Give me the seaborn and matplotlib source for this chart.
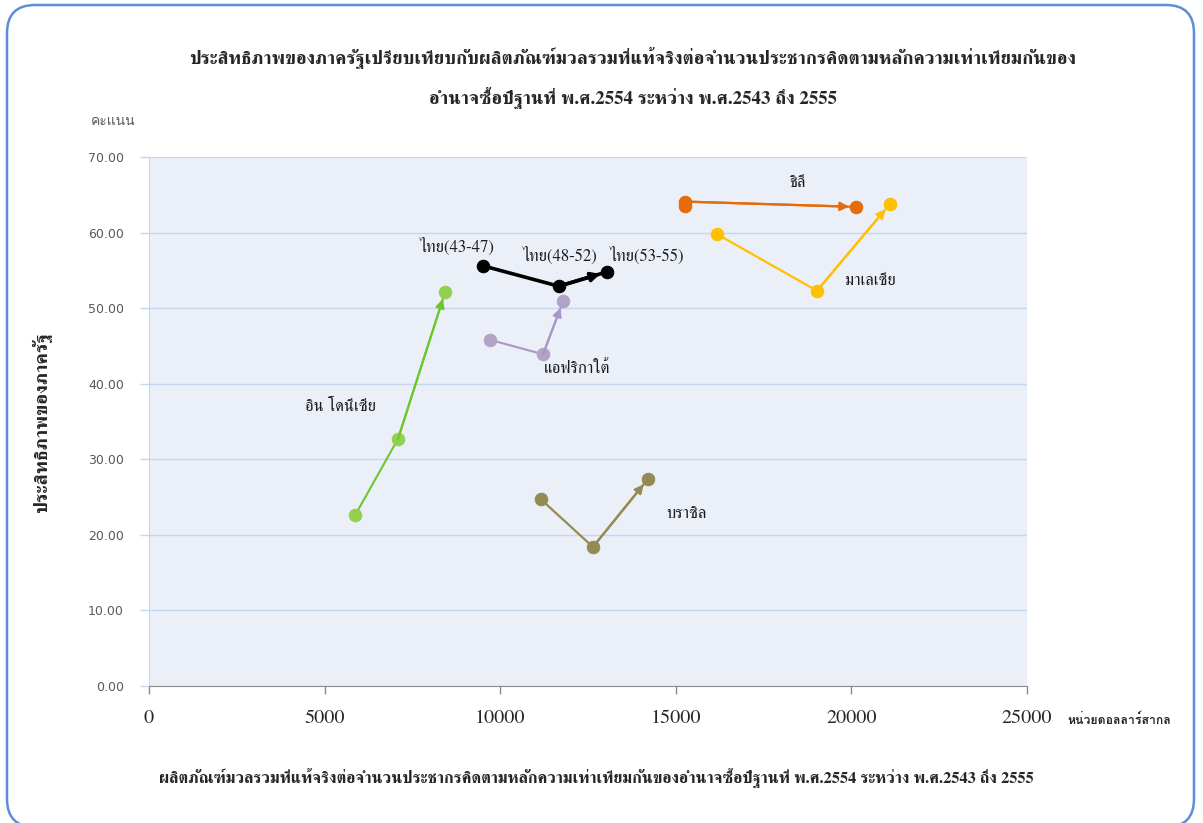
import numpy as np
import pandas as pd
import matplotlib
matplotlib.use('Agg')
import matplotlib.pyplot as plt
from matplotlib.patches import FancyBboxPatch
import seaborn as sns

# ข้อมูล (อ่านค่าจากกราฟต้นฉบับ)
thai_x = [9510, 11670, 13040]
thai_y = [55.6, 52.9, 54.8]
thai_labels = ['ไทย(43-47)', 'ไทย(48-52)', 'ไทย(53-55)']
sa_x = [9710, 11220, 11790]
sa_y = [45.8, 43.9, 50.9]
indo_x = [5870, 7090, 8430]
indo_y = [22.6, 32.7, 52.1]
brazil_x = [11160, 12640, 14210]
brazil_y = [24.7, 18.4, 27.4]
chile_x = [15270, 15260, 20130]
chile_y = [63.5, 64.1, 63.4]
malay_x = [16170, 19020, 21100]
malay_y = [59.8, 52.3, 63.8]

countries = ['ไทย', 'แอฟริกาใต้', 'อิน โดนีเซีย', 'บราซิล', 'ชิลี', 'มาเลเซีย']
xs = [thai_x, sa_x, indo_x, brazil_x, chile_x, malay_x]
ys = [thai_y, sa_y, indo_y, brazil_y, chile_y, malay_y]
line_colors = ['#000000', '#a896c6', '#6cc72a', '#948a54', '#e46c0a', '#ffc000']
marker_colors = ['#000000', '#b3a2c7', '#92d050', '#948a54', '#e46c0a', '#ffc000']
line_widths = [2.6, 1.5, 1.5, 1.6, 1.6, 1.6]

yticks = [0, 10, 20, 30, 40, 50, 60, 70]
xticks = [0, 5000, 10000, 15000, 20000, 25000]

title1 = 'ประสิทธิภาพของภาครัฐเปรียบเทียบกับผลิตภัณฑ์มวลรวมที่แท้จริงต่อจำนวนประชากรคิดตามหลักความเท่าเทียมกันของ'
title2 = 'อำนาจซื้อปีฐานที่ พ.ศ.2554 ระหว่าง พ.ศ.2543 ถึง 2555'
ylabel = 'ประสิทธิภาพของภาครัฐ'
xlabel = 'ผลิตภัณฑ์มวลรวมที่แท้จริงต่อจำนวนประชากรคิดตามหลักความเท่าเทียมกันของอำนาจซื้อปีฐานที่ พ.ศ.2554 ระหว่าง พ.ศ.2543 ถึง 2555'

rows = []
for c, xx, yy in zip(countries, xs, ys):
    for i, (a, b) in enumerate(zip(xx, yy)):
        rows.append({'country': c, 'step': i, 'gdp': a, 'score': b})
df = pd.DataFrame(rows)

sns.set_style('white')
serif = ['FreeSerif', 'DejaVu Serif']
sans = ['Loma', 'Noto Sans Thai', 'DejaVu Sans']
plt.rcParams['font.family'] = serif

fig = plt.figure(figsize=(12.03, 8.23), dpi=100)

# กรอบมุมมน
bg = fig.add_axes([0, 0, 1, 1])
bg.set_xlim(0, 1203)
bg.set_ylim(823, 0)
bg.axis('off')
bg.add_patch(FancyBboxPatch((7, 5), 1187, 822, boxstyle='round,pad=0,rounding_size=28',
                            fc='white', ec='#5b8fd9', lw=1.8))

ax = fig.add_axes([149 / 1203, 1 - 686 / 823, 878 / 1203, 529 / 823])
ax.set_facecolor('#ebf0f8')

for c, lc, mc, lw in zip(countries, line_colors, marker_colors, line_widths):
    d = df[df['country'] == c]
    sns.lineplot(data=d, x='gdp', y='score', sort=False, ax=ax, color=lc, lw=lw,
                 marker='o', markersize=9, markerfacecolor=mc, markeredgecolor=mc,
                 legend=False, zorder=3)
    # หัวลูกศรช่วงสุดท้าย
    ax.annotate('', xy=(d['gdp'].iloc[-1], d['score'].iloc[-1]),
                xytext=(d['gdp'].iloc[-2], d['score'].iloc[-2]),
                arrowprops=dict(arrowstyle='-|>', color=lc, lw=lw, shrinkA=0, shrinkB=5,
                                mutation_scale=13), zorder=4)

ax.set_xlim(0, 25000)
ax.set_ylim(0, 70)
ax.set_xticks(xticks)
ax.set_yticks(yticks)
ax.set_xticklabels([str(v) for v in xticks], fontsize=14.5)
ax.set_yticklabels(['%.2f' % v for v in yticks], fontsize=9, color='#595959',
                   family=['DejaVu Sans'])
ax.grid(axis='y', color='#c6d6ee', lw=1)
ax.grid(axis='x', visible=False)
ax.set_axisbelow(True)
for s in ['top', 'right']:
    ax.spines[s].set_visible(False)
ax.spines['left'].set_color('#c6d6ee')
ax.spines['bottom'].set_color('#8c8c8c')
ax.tick_params(axis='y', left=True, length=6.5, width=1, color='#c6d6ee', pad=11.5)
ax.tick_params(axis='x', bottom=True, length=6, width=1, color='#8c8c8c', pad=11)
ax.set_xlabel('')
ax.set_ylabel('')

# ป้ายชื่อ
lab_fs = 12
for t, px, py in zip(thai_labels, [8770, 11700, 14180], [58.1, 56.9, 56.9]):
    ax.text(px, py, t, ha='center', va='center', fontsize=lab_fs, color='#1a1a1a')
ax.text(18450, 66.6, 'ชิลี', ha='center', va='center', fontsize=lab_fs, color='#1a1a1a')
ax.text(20530, 53.6, 'มาเลเซีย', ha='center', va='center', fontsize=lab_fs, color='#1a1a1a')
ax.text(12190, 41.9, 'แอฟริกาใต้', ha='center', va='center', fontsize=lab_fs, color='#1a1a1a')
ax.text(5440, 36.9, 'อิน โดนีเซีย', ha='center', va='center', fontsize=lab_fs, color='#1a1a1a')
ax.text(15290, 22.8, 'บราซิล', ha='center', va='center', fontsize=lab_fs, color='#1a1a1a')

fig.text(0.526, 0.9295, title1, ha='center', va='center', fontsize=13.6, fontweight='bold')
fig.text(0.526, 0.881, title2, ha='center', va='center', fontsize=13.6, fontweight='bold')
fig.text(0.035, 0.487, ylabel, ha='center', va='center', rotation=90, fontsize=14,
         fontweight='bold')
fig.text(0.094, 0.852, 'คะแนน', ha='center', va='center', fontsize=10, color='#595959',
         family=sans)
fig.text(0.930, 0.125, 'หน่วยดอลลาร์สากล', ha='center', va='center', fontsize=8.8,
         fontweight='bold', color='#262626', family=sans)
fig.text(0.496, 0.0547, xlabel, ha='center', va='center', fontsize=11.9, fontweight='bold')

fig.savefig('out.png', dpi=100)
